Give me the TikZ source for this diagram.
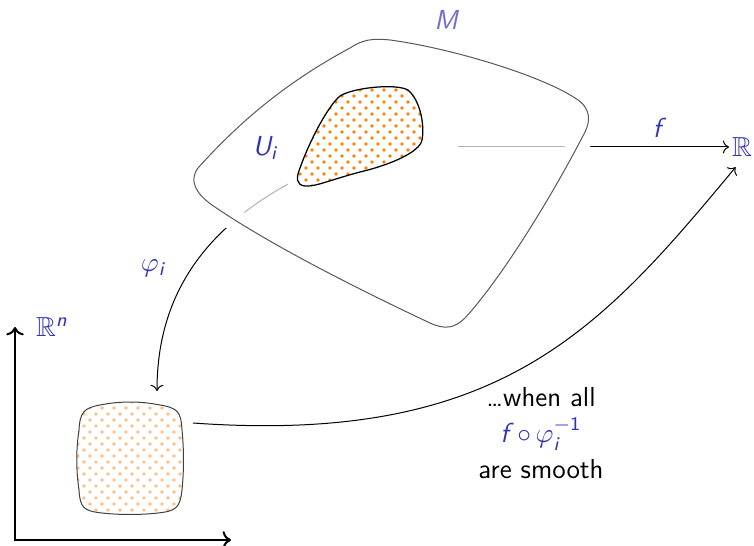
\documentclass[tikz,border=0pt]{standalone}
\usepackage{amsmath, amssymb}
\renewcommand{\familydefault}{\sfdefault}
\newcommand{\sv}[1]{\textit{#1}}
\usetikzlibrary{arrows.meta, patterns.meta, positioning}
\definecolor{struct}{RGB}{51,51,179}

\tikzdeclarepattern{
    name=chartdots,
    type=uncolored,
    bottom left={(-.8pt,-.8pt)},
    top right={(4pt,4pt)},
    tile size={(4.8pt,4.8pt)},
    code={
        \fill (0pt,0pt) circle (.75pt);
        \fill (2.4pt,2.4pt) circle (.75pt);
    }
}

\begin{document}
\begin{tikzpicture}[
    x=0.4pt, y=-0.4pt,
    every node/.style={font=\fontsize{11}{13.5}\selectfont},
    lbl/.style={text=struct, inner sep=1pt},
    conn/.style={->},
    axis/.style={<->, thick},
    manifold/.style={
        draw=black!65,
        fill=white,
        fill opacity=.7,
        preaction={draw=white, line width=9pt}
    },
    chart/.style={draw=black, line width=.5pt, pattern=chartdots, pattern color=orange},
    image/.style={draw=black!75, pattern=chartdots, pattern color=orange!50}
]
\useasboundingbox (0,0) rectangle (754,546);

\node[lbl] (R) at (742,147) {$\mathbb{R}$};
\coordinate (fstart) at (458,147);
\coordinate (phistart) at (288,184);
\coordinate (vtop) at (157,391);
\coordinate (vright) at (193,423);
\coordinate (O) at (15,540);
\coordinate (xend) at (231,540);
\coordinate (yend) at (15,327);

% axes of R^n
\draw[axis] (yend) -- (O) -- (xend);

% maps
\draw[conn] (fstart) -- (R.west);
\draw[conn] (phistart) to[out=209, in=90] (vtop);
\draw[conn, shorten >=4pt] (vright) .. controls +(307,22) and +(-142,171) .. (R.south);

% the manifold, over the maps
\draw[manifold] (350,48) .. controls (362,40) and (372,38) .. (390,40)
    .. controls (450,48) and (540,75) .. (575,98)
    .. controls (592,108) and (590,122) .. (585,132)
    .. controls (550,200) and (500,280) .. (465,318)
    .. controls (455,328) and (445,330) .. (430,323)
    .. controls (360,290) and (270,245) .. (212,205)
    .. controls (195,193) and (189,180) .. (198,168)
    .. controls (250,110) and (300,75) .. (350,48) -- cycle;

% chart domain U_i
\draw[chart] (305,186) .. controls (296,185) and (296,178) .. (300,168)
    .. controls (310,140) and (328,106) .. (340,96)
    .. controls (352,88) and (395,83) .. (408,90)
    .. controls (420,100) and (425,125) .. (422,140)
    .. controls (420,152) and (390,165) .. (360,172)
    .. controls (330,180) and (315,187) .. (305,186) -- cycle;

% image of U_i in R^n
\draw[image] (100,405) .. controls (120,401) and (140,401) .. (160,405)
    .. controls (178,408) and (181,412) .. (182,430)
    .. controls (184,450) and (184,470) .. (182,490)
    .. controls (180,508) and (176,511) .. (158,513)
    .. controls (140,515) and (120,515) .. (102,513)
    .. controls (84,511) and (80,508) .. (79,490)
    .. controls (76,470) and (76,450) .. (79,430)
    .. controls (80,412) and (84,408) .. (100,405) -- cycle;

% labels
\node[lbl, text=struct!70] (M) at (446,20) {$\sv{M}$};
\node[lbl] (Ui) at (265,148) {$\sv{U}_{\sv{i}}$};
\node[lbl] (Rn) at (52,327) {$\mathbb{R}^{\sv{n}}$};
\node[lbl] (flab) at (657,128) {$\sv{f}$};
\node[lbl] (philab) at (153,268) {$\varphi_{\sv{i}}$};
\node[align=center] (note) at (541,433)
    {\ldots when all\\[1pt]
     \textcolor{struct}{$\sv{f}\hspace{3.5pt}{\circ}\,\varphi_{\sv{i}}^{-\textup{1}}$}\\[1pt]
     are smooth};
\end{tikzpicture}
\end{document}
